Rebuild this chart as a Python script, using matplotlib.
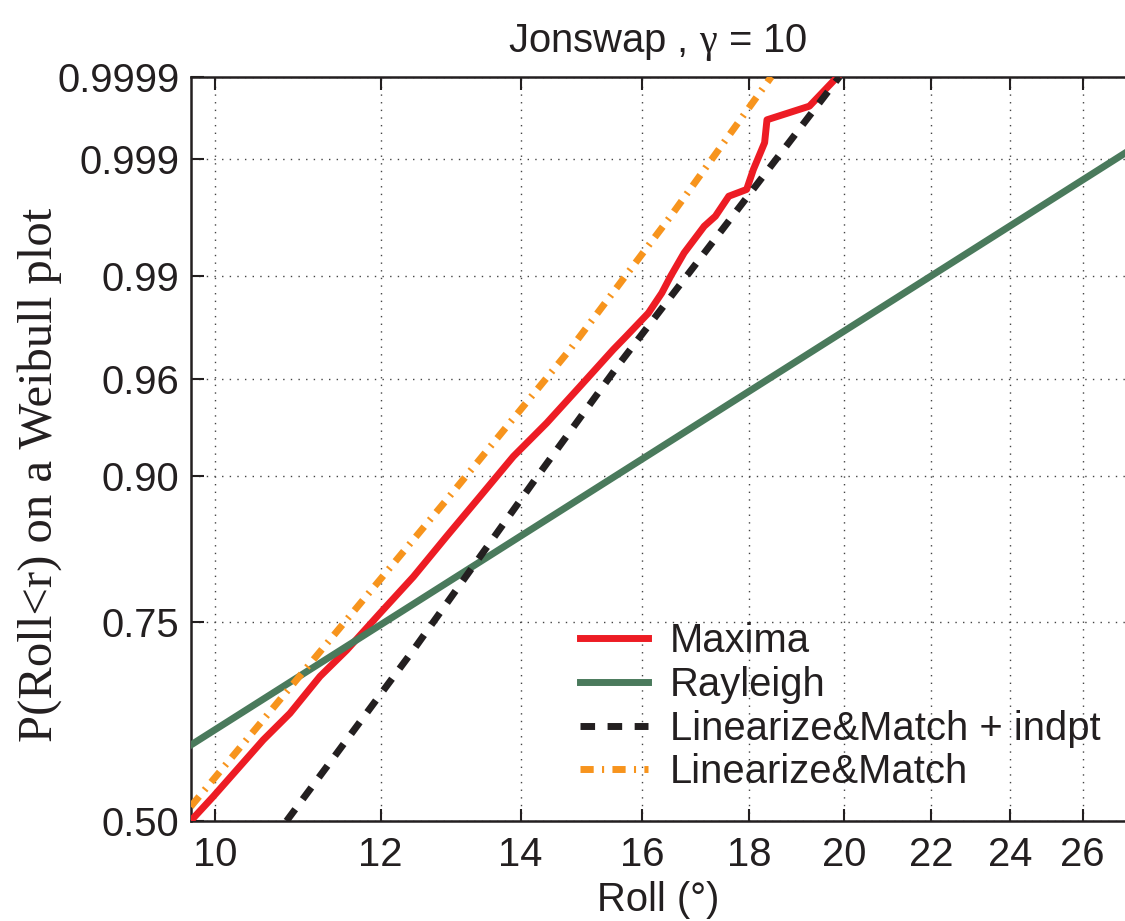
import numpy as np
import matplotlib
matplotlib.use("Agg")
import matplotlib.pyplot as plt
from matplotlib.ticker import FixedLocator, FixedFormatter, NullLocator

# --- data: roll angle (deg) vs non-exceedance probability ---
# empirical distribution of the roll maxima
maxima_roll = [9.736, 9.98, 10.546, 10.861, 11.226, 11.561, 11.993, 12.441,
               12.906, 13.389, 13.889, 14.41, 14.948, 15.506, 15.724, 16.117,
               16.356, 16.517, 16.763, 17.138, 17.351, 17.608, 17.958, 18.091,
               18.317, 18.365, 19.243, 19.916]
maxima_prob = [0.5, 0.5297, 0.601, 0.635, 0.682, 0.715, 0.760, 0.802,
               0.845, 0.8825, 0.9146, 0.937, 0.9567, 0.9718, 0.9761, 0.9826,
               0.9870, 0.9900, 0.99321, 0.99582, 0.99656, 0.99771, 0.99802, 0.99873,
               0.99934, 0.99964, 0.999755, 0.99991]

# Rayleigh distribution of the roll amplitude
rayleigh_scale = 10.25     # P = 1 - exp(-(r/scale)^2)
rayleigh_roll = [9.7, 27.3]

# Linearize & Match, with independent peaks
lm_indpt_roll = [10.82, 12.44, 14.30, 15.62, 19.89]
lm_indpt_prob = [0.5, 0.715, 0.902, 0.9668, 0.9999]

# Linearize & Match
lm_roll = [9.736, 11.143, 12.906, 14.783, 16.517, 18.453]
lm_prob = [0.5174, 0.7029, 0.8796, 0.9718, 0.99656, 0.9999]

x_ticks = [10, 12, 14, 16, 18, 20, 22, 24, 26]
p_ticks = [0.50, 0.75, 0.90, 0.96, 0.99, 0.999, 0.9999]
p_labels = ['0.50', '0.75', '0.90', '0.96', '0.99', '0.999', '0.9999']

RED = '#ED1C24'
GREEN = '#4A7A5C'
BLACK = '#231F20'
ORANGE = '#F7941D'


def weibull_fwd(p):
    p = np.clip(np.asarray(p, dtype=float), 1e-12, 1 - 1e-12)
    return np.log(-np.log(1.0 - p))


def weibull_inv(y):
    return 1.0 - np.exp(-np.exp(np.asarray(y, dtype=float)))


plt.rcParams['font.family'] = ['Liberation Sans', 'DejaVu Sans']
plt.rcParams['mathtext.fontset'] = 'custom'
plt.rcParams['mathtext.rm'] = 'Liberation Serif'
plt.rcParams['mathtext.it'] = 'Liberation Serif:italic'
FS = 28.8

fig = plt.figure(figsize=(11.25, 9.21), dpi=100)
ax = fig.add_axes([0.1695, 0.1086, 0.8305, 0.8081])

ax.set_xscale('log')
ax.set_yscale('function', functions=(weibull_fwd, weibull_inv))

lw = 5
ax.plot(maxima_roll, maxima_prob, color=RED, lw=lw, label='Maxima',
        solid_joinstyle='round', zorder=3)

r = np.geomspace(rayleigh_roll[0], rayleigh_roll[1], 200)
ax.plot(r, 1 - np.exp(-(r / rayleigh_scale) ** 2), color=GREEN, lw=lw,
        label='Rayleigh', zorder=4)

ax.plot(lm_indpt_roll, lm_indpt_prob, color=BLACK, lw=lw,
        linestyle=(0, (2.1, 1.8)), label='Linearize&Match + indpt', zorder=5)
ax.plot(lm_roll, lm_prob, color=ORANGE, lw=lw,
        linestyle=(0, (1.9, 1.2, 0.3, 1.2)), label='Linearize&Match', zorder=6)

ax.set_xlim(9.736, 27.24)
ax.set_ylim(0.5, 0.9999)

ax.xaxis.set_major_locator(FixedLocator(x_ticks))
ax.xaxis.set_major_formatter(FixedFormatter([str(t) for t in x_ticks]))
ax.xaxis.set_minor_locator(NullLocator())
ax.yaxis.set_major_locator(FixedLocator(p_ticks))
ax.yaxis.set_major_formatter(FixedFormatter(p_labels))
ax.yaxis.set_minor_locator(NullLocator())

ax.tick_params(axis='both', which='major', direction='in', length=9, width=1.5,
               labelsize=FS, colors=BLACK, top=True, right=False)
ax.tick_params(axis='x', pad=11)
ax.tick_params(axis='y', pad=8)

for side in ['left', 'bottom', 'top']:
    ax.spines[side].set_linewidth(1.8)
    ax.spines[side].set_color(BLACK)
ax.spines['right'].set_visible(False)

ax.grid(True, which='major', color='#444444', lw=1.0, linestyle=(0, (1, 4.5)))

ax.set_title('Jonswap , $\\mathrm{\\gamma}$ = 10', fontsize=FS, pad=18, color=BLACK)
ax.set_xlabel('Roll (°)', fontsize=FS, color=BLACK, labelpad=5)
ax.set_ylabel('P(Roll<r) on a Weibull plot', fontsize=35, color=BLACK,
              family=['Liberation Serif', 'DejaVu Serif'])
ax.yaxis.set_label_coords(-0.138, 0.465)

leg = ax.legend(loc='upper left', bbox_to_anchor=(0.4167, 0.2667), frameon=False,
                fontsize=FS, handlelength=1.7, handletextpad=0.55,
                labelspacing=0.14, borderpad=0, borderaxespad=0)
for t in leg.get_texts():
    t.set_color(BLACK)

fig.savefig('out.png', dpi=100)
